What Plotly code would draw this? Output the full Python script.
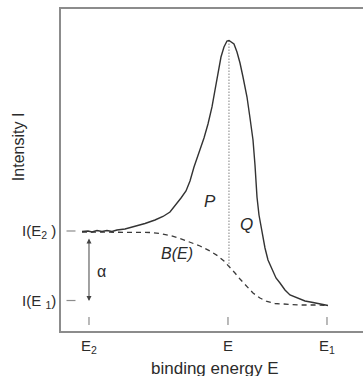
import plotly.graph_objects as go

# ---- data (arbitrary units: E2 = 0, E1 = 100 ; intensity 0..100) ----
spec_E = [-2.94, -0.42, 1.26, 3.36, 5.46, 7.56, 9.66, 11.76, 15.13, 19.33, 23.53,
          27.73, 31.09, 34.03, 36.55, 38.66, 40.76, 42.44, 44.12, 46.22, 48.32,
          50.00, 51.68, 52.94, 54.20, 55.46, 56.72, 57.98, 58.82, 59.66, 60.92,
          62.18, 63.45, 64.71, 66.39, 67.65, 68.91, 69.75, 70.59, 71.43, 72.69,
          73.95, 75.21, 76.89, 78.57, 80.25, 82.35, 84.45, 87.39, 90.76, 94.12,
          97.06, 100.42]
spec_I = [30.90, 31.06, 30.75, 31.21, 30.90, 31.21, 30.90, 31.37, 31.68, 32.45, 33.39,
          34.47, 35.56, 36.96, 39.13, 41.30, 43.48, 46.58, 50.93, 55.28, 59.94,
          64.29, 69.57, 74.84, 80.43, 85.09, 88.20, 90.06, 90.22, 89.75, 89.13,
          86.65, 83.23, 78.88, 72.67, 66.15, 59.32, 51.55, 41.61, 36.02, 30.43,
          25.78, 22.05, 18.94, 16.46, 14.91, 12.73, 11.18, 10.25, 9.32, 8.85,
          8.39, 7.92]

bg_E = [-2.94, 4.62, 13.03, 21.43, 25.63, 29.83, 34.03, 38.24, 42.44, 46.64, 50.84,
        54.20, 56.72, 58.82, 61.34, 63.45, 65.97, 68.91, 71.85, 74.79, 78.15,
        83.19, 88.66, 94.96, 100.42]
bg_I = [30.75, 30.75, 30.75, 30.75, 30.59, 30.28, 29.66, 28.73, 27.64, 26.40, 24.84,
        23.29, 21.74, 20.19, 18.01, 16.15, 13.98, 11.80, 10.25, 9.16, 8.54,
        8.23, 8.07, 8.07, 7.92]

peak_E = 58.82
peak_I = 90.22
bg_at_peak = 20.19

x_tick_vals = [0, 58.4, 100]
x_tick_text = ["E<sub>2</sub>", "E", "E<sub>1</sub>"]
y_tick_vals = [31.06, 9.47]
y_tick_text = ["I(E<sub>2</sub> )", "I(E <sub>1</sub>)"]

alpha_top = 29.2
alpha_bottom = 9.3

x_range = [-11.76, 115.13]
y_range = [0, 100]

FONT = "Liberation Sans, Arial, sans-serif"
DARK = "#2b2b2b"
GRAY = "#8c8c8c"

fig = go.Figure()
fig.add_trace(go.Scatter(x=bg_E, y=bg_I, mode="lines",
                         line=dict(color="#3a3a3a", width=1.3, dash="5px,4px"),
                         showlegend=False, hoverinfo="skip"))
fig.add_trace(go.Scatter(x=[peak_E, peak_E], y=[peak_I, bg_at_peak], mode="lines",
                         line=dict(color="#808080", width=1, dash="1.5px,1.5px"),
                         showlegend=False, hoverinfo="skip"))
fig.add_trace(go.Scatter(x=spec_E, y=spec_I, mode="lines",
                         line=dict(color="#333333", width=1.4),
                         showlegend=False, hoverinfo="skip"))

# inside tick marks
for xv in x_tick_vals:
    fig.add_shape(type="line", xref="x", yref="y", x0=xv, x1=xv, y0=1.86, y1=4.35,
                  line=dict(color=GRAY, width=1.2))
for yv in y_tick_vals:
    fig.add_shape(type="line", xref="x", yref="y", x0=-9.45, x1=-5.67, y0=yv, y1=yv,
                  line=dict(color=GRAY, width=1.2))

# alpha double arrow
fig.add_annotation(x=0, y=alpha_bottom, ax=0, ay=alpha_top, xref="x", yref="y",
                   axref="x", ayref="y", text="", showarrow=True,
                   arrowhead=2, startarrowhead=2, arrowside="end+start",
                   arrowsize=1, startarrowsize=1, arrowwidth=1, arrowcolor="#444444")

labels = [("<i>P</i>", 50.84, 40.37, 17),
          ("<i>Q</i>", 66.18, 33.07, 17),
          ("<i>B(E)</i>", 37.18, 24.07, 16),
          ("α", 5.46, 18.63, 16)]
for txt, xv, yv, fs in labels:
    fig.add_annotation(x=xv, y=yv, xref="x", yref="y", text=txt, showarrow=False,
                       font=dict(family=FONT, size=fs, color=DARK))

fig.add_annotation(x=0.51, y=-0.115, xref="paper", yref="paper", text="binding energy E",
                   showarrow=False, xanchor="center", yanchor="middle",
                   font=dict(family=FONT, size=17, color=DARK))
fig.add_annotation(x=-0.1424, y=0.571, xref="paper", yref="paper", text="Intensity I",
                   showarrow=False, textangle=-90, xanchor="center", yanchor="middle",
                   font=dict(family=FONT, size=16, color=DARK))

fig.update_xaxes(range=x_range, showgrid=False, zeroline=False, showline=True,
                 mirror=True, linecolor=GRAY, linewidth=1.5, ticks="",
                 tickvals=x_tick_vals, ticktext=x_tick_text,
                 tickfont=dict(family=FONT, size=15, color=DARK))
fig.update_yaxes(range=y_range, showgrid=False, zeroline=False, showline=True,
                 mirror=False, linecolor=GRAY, linewidth=1.5, ticks="",
                 tickvals=y_tick_vals, ticktext=y_tick_text,
                 tickfont=dict(family=FONT, size=15, color=DARK))

fig.update_layout(width=363, height=376, margin=dict(l=61, r=0, t=9, b=45),
                  paper_bgcolor="white", plot_bgcolor="white",
                  font=dict(family=FONT, color=DARK))

fig.write_html("out.html")
